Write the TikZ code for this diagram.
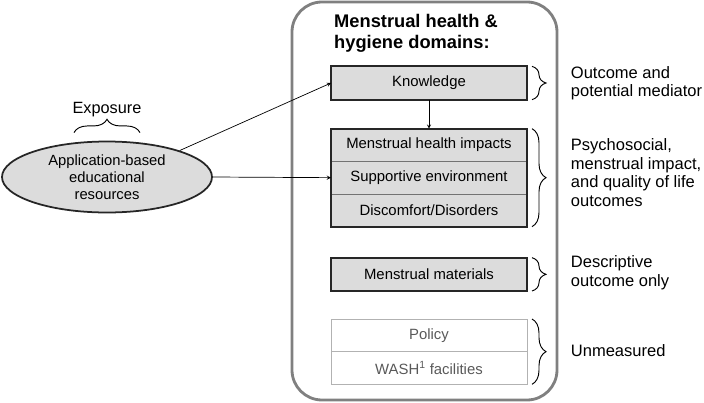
\documentclass[tikz,border=0pt]{standalone}
\usepackage{fontspec}
\setmainfont{Liberation Sans}
\usepackage{tikz}
\usetikzlibrary{positioning,shapes.geometric,decorations.pathreplacing}
\definecolor{cinzaclaro}{RGB}{220,220,220}
\definecolor{cinzaborda}{RGB}{128,128,128}
\tikzstyle{dominio} = [rectangle, minimum width=5.88cm, minimum height=1cm, text centered, draw=black!85, line width=1.5pt, fill=cinzaclaro, font=\fontsize{12.7}{15}\selectfont, outer sep=0pt]
\tikzstyle{linha} = [rectangle, minimum width=5.88cm, minimum height=0.98cm, text centered, draw=black!55, line width=0.6pt, fill=cinzaclaro, font=\fontsize{12.7}{15}\selectfont, outer sep=0pt]
\tikzstyle{naomedido} = [rectangle, minimum width=5.88cm, minimum height=0.98cm, text centered, draw=black!30, line width=0.8pt, text=black!65, font=\fontsize{12.7}{15}\selectfont, outer sep=0pt]
\tikzstyle{rotulo} = [anchor=west, align=left, inner sep=0pt, font=\fontsize{14.1}{15.8}\selectfont]
\tikzstyle{chave} = [decorate, decoration={brace, amplitude=0.42cm}, line width=0.8pt]
\tikzstyle{seta} = [->,>=stealth, line width=0.6pt]

\begin{document}
\begin{tikzpicture}[node distance=2cm]
        \useasboundingbox (0,0) rectangle (21.12,-12.09);
        % Caixa externa dos dominios
        \draw [cinzaborda, line width=2.4pt, rounded corners=0.9cm] (8.76,-0.06) rectangle (16.71,-12.0);
        \node (titulo) [anchor=west, align=left, inner sep=0pt, font=\fontsize{15.6}{18.5}\selectfont\bfseries] at (10.02,-1.0) {Menstrual health \&\\hygiene domains:};
        % Exposicao
        \node (app) [ellipse, draw=black!85, line width=1.5pt, fill=cinzaclaro, minimum width=6.3cm, minimum height=2.13cm, inner sep=0pt, align=center, font=\fontsize{12.6}{14.5}\selectfont] at (3.21,-5.31) {Application-based\\educational\\resources};
        \draw [chave, decoration={amplitude=0.4cm}] ([xshift=-0.99cm, yshift=0.24cm]app.north) -- ([xshift=0.99cm, yshift=0.24cm]app.north) coordinate (chaveexp);
        \node (exposicao) [above=0.6cm of app.north, font=\fontsize{13.9}{16}\selectfont] {Exposure};
        % Dominios
        \node (know) [dominio] at (12.87,-2.49) {Knowledge};
        \node (mhi) [linha, below=0.87cm of know] {Menstrual health impacts};
        \node (supp) [linha, below=0cm of mhi] {Supportive environment};
        \node (disc) [linha, below=0cm of supp] {Discomfort/Disorders};
        \draw [black!85, line width=1.5pt] (mhi.north west) rectangle (disc.south east);
        \node (mat) [dominio, below=0.93cm of disc] {Menstrual materials};
        \node (pol) [naomedido, below=0.84cm of mat] {Policy};
        \node (wash) [naomedido, below=0cm of pol] {WASH\textsuperscript{1} facilities};
        % Conexoes
        \draw [seta] (app.20) -- (know.west);
        \draw [seta] (app.east) -- (supp.west);
        \draw [seta] (know.south) -- (mhi.north);
        % Chaves e rotulos
        \draw [chave] ([xshift=0.15cm]know.north east) -- ([xshift=0.15cm]know.south east);
        \draw [chave] ([xshift=0.15cm]mhi.north east) -- ([xshift=0.15cm]disc.south east);
        \draw [chave] ([xshift=0.15cm]mat.north east) -- ([xshift=0.15cm]mat.south east);
        \draw [chave] ([xshift=0.15cm]pol.north east) -- ([xshift=0.15cm]wash.south east);
        \node (r1) [rotulo] at (17.12,-2.5) {Outcome and\\potential mediator};
        \node (r2) [rotulo] at (17.12,-5.175) {Psychosocial,\\menstrual impact,\\and quality of life\\outcomes};
        \node (r3) [rotulo] at (17.12,-8.175) {Descriptive\\outcome only};
        \node (r4) [rotulo] at (17.12,-10.52) {Unmeasured};
    \end{tikzpicture}
\end{document}
